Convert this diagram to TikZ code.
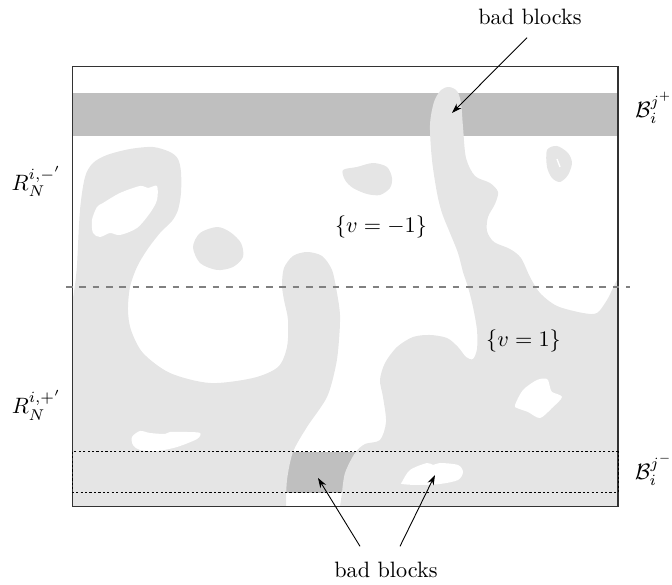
\documentclass[tikz,border=0pt]{standalone}
\usepackage{amsmath,amssymb}
\usetikzlibrary{arrows.meta,calc}
\tikzset{
  spin/.style={fill=gray!20},
  badband/.style={fill=gray!50},
  hole/.style={fill=white},
  farr/.style={-{Stealth[length=4.5pt,width=3pt]}, thin}
}

\begin{document}
\begin{tikzpicture}[x=0.45pt,y=-0.45pt]
\useasboundingbox (0,0) rectangle (672,585);
\fill[badband] (72.7,93.3) rectangle (618,136);
\fill[badband] (72.7,451.7) rectangle (618,492.7);
\fill[spin] (72.7,506.7) -- (72.7,300) -- plot[smooth] coordinates {(75,285) (77,265) (80,210) (85,177) (93,163) (107,155) (130,149) (153,147) (170,152) (178,159) (181,172) (181,193) (178,210) (172,221) (160,233) (147,250) (137,267) (130,287) (128,310) (131,330) (143,353) (170,373) (210,383) (253,378) (278,367) (287,347) (288,320) (284,300) (282,285) (284,268) (293,256) (307,252) (322,256) (332,270) (337,293) (340,315) (339,340) (336,365) (327,397) (307,427) (293,452) (287,480) (286,506.7)} -- cycle;
\fill[spin] (340,506.7) -- plot[smooth] coordinates {(342,493) (345,473) (355,453) (365,444) (380,440) (386,422) (383,397) (380,380) (385,363) (397,347) (413,337) (430,335) (447,338) (458,347) (466,357) (473,359) (477,349) (477,330) (473,307) (468,287) (463,272) (458,253) (450,233) (442,213) (437,193) (432,160) (430,125) (434,102) (441,90) (449,87) (457,91) (461,103) (463,127) (466,158) (475,176) (490,183) (498,192) (495,204) (488,217) (487,231) (494,242) (510,249) (521,258) (530,277) (540,293) (557,306) (583,313) (597,313) (607,300) (613,288) (618,278)} -- (618,506.7) -- cycle;
\fill[spin] plot[smooth cycle] coordinates {(193,247) (200,233) (217,227) (230,232) (241,243) (243,257) (233,267) (217,270) (200,263)};
\fill[spin] plot[smooth cycle] coordinates {(343,170) (357,167) (373,163) (387,167) (392,178) (390,188) (380,195) (367,194) (353,188) (345,180)};
\fill[spin] plot[smooth cycle] coordinates {(547,150) (557,146) (568,153) (572,163) (568,175) (560,182) (552,178) (547,167)};
\fill[hole] plot[smooth cycle] coordinates {(93,233) (92,220) (97,207) (103,203) (120,193) (140,186) (148,188) (157,186) (157,200) (150,213) (137,228) (120,235) (110,233) (100,237)};
\fill[hole] plot[smooth cycle] coordinates {(132,437) (140,431) (150,433) (165,434) (170,432) (187,432) (200,433) (197,439) (177,447) (157,451) (140,450) (133,445)};
\fill[hole] plot[smooth cycle] coordinates {(515,405) (523,390) (537,380) (547,379) (550,387) (552,392) (562,397) (552,408) (540,418) (528,412) (517,408)};
\fill[hole] plot[smooth cycle] coordinates {(402,482) (410,470) (427,463) (433,465) (440,463) (458,465) (463,472) (458,480) (440,484) (417,485) (402,484)};
\draw[white, line width=0.6pt] (557,159) -- (560,167);
\draw[black!80, semithick] (72.7,66.7) rectangle (618,506.7);
\draw[gray, thick, dashed] (66,286.7) -- (630,286.7);
\draw[dash pattern=on 1pt off 1pt] (72.7,451.7) rectangle (618,492.7);
\node (rm) at (36.5,181.5) {$R_N^{i,-'}$};
\node (rp) at (36.5,405) {$R_N^{i,+'}$};
\node (bp) at (654,108) {$\mathcal{B}_i^{j^+}$};
\node (bm) at (654,470) {$\mathcal{B}_i^{j^-}$};
\node (vm) at (381,226.5) {$\{v=-1\}$};
\node (vp) at (523.5,341) {$\{v=1\}$};
\node (badtop) at (530,17) {bad blocks};
\node (badbot) at (386,570) {bad blocks};
\coordinate (t1) at (452,113);
\coordinate (t2) at (318,478);
\coordinate (t3) at (435,475);
\draw[farr] ($(badtop.south)+(-3,5)$) -- (t1);
\draw[farr] ($(badbot.north)+(-26,-8)$) -- (t2);
\draw[farr] ($(badbot.north)+(14,-8)$) -- (t3);
\end{tikzpicture}
\end{document}
